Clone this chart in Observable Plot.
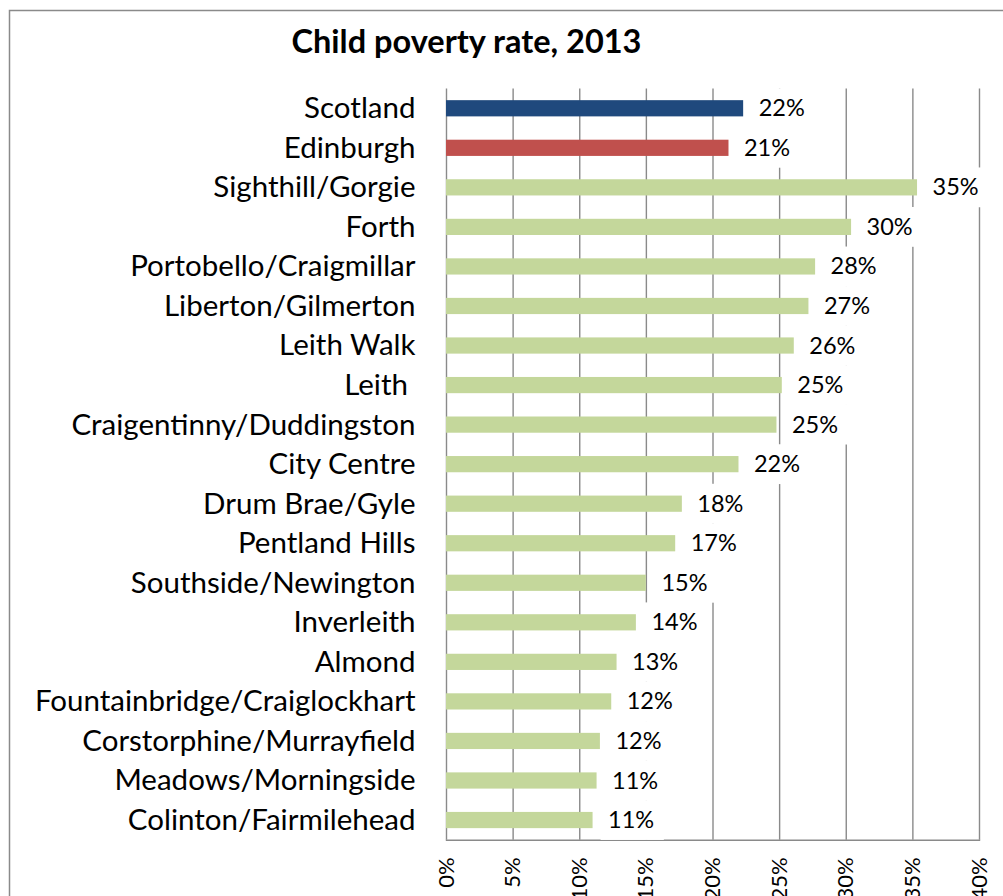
<!DOCTYPE html>
<html><head><meta charset="utf-8">
<script src="https://cdn.jsdelivr.net/npm/d3@7"></script>
<script src="https://cdn.jsdelivr.net/npm/@observablehq/plot@0.6"></script>
<style>html,body{margin:0;padding:0;overflow:hidden;background:#fff} svg{display:block}</style>
</head><body><div id="chart"></div>
<script>
const title = "Child poverty rate, 2013";
const areas = ["Scotland","Edinburgh","Sighthill/Gorgie","Forth","Portobello/Craigmillar","Liberton/Gilmerton","Leith Walk","Leith ","Craigentinny/Duddingston","City Centre","Drum Brae/Gyle","Pentland Hills","Southside/Newington","Inverleith","Almond","Fountainbridge/Craiglockhart","Corstorphine/Murrayfield","Meadows/Morningside","Colinton/Fairmilehead"];
const rates = [0.223,0.212,0.3535,0.304,0.277,0.272,0.261,0.252,0.248,0.2195,0.177,0.172,0.150,0.1425,0.128,0.124,0.1155,0.113,0.110];
const kinds = ["Scotland","Edinburgh","Ward","Ward","Ward","Ward","Ward","Ward","Ward","Ward","Ward","Ward","Ward","Ward","Ward","Ward","Ward","Ward","Ward"];
const kindNames = ["Scotland","Edinburgh","Ward"];
const kindColors = ["#1F497D","#C0504D","#C4D79B"];
const xTicks = [0,0.05,0.10,0.15,0.20,0.25,0.30,0.35,0.40];

const data = areas.map((a,i)=>({area:a, rate:rates[i], kind:kinds[i]}));
const grid = "#8a8a8a";

const chart = Plot.plot({
  width: 1003,
  height: 896,
  marginLeft: 446,
  marginRight: 24,
  marginTop: 88.5,
  marginBottom: 56.2,
  style: {fontFamily: "Lato, 'Open Sans', sans-serif", color: "#000", background: "#fff"},
  x: {domain: [0, 0.4]},
  y: {domain: areas, paddingInner: 0.59, paddingOuter: 0.295, round: false},
  color: {domain: kindNames, range: kindColors},
  marks: [
    Plot.ruleX(xTicks, {stroke: grid, strokeWidth: 1.4}),
    Plot.frame({anchor: "bottom", stroke: grid, strokeWidth: 1.4}),
    Plot.barX(data, {x1: d => d.rate + 0.006, x2: d => d.rate + 0.0535, y: "area", fill: "#fff", insetTop: -11.8, insetBottom: -11.8}),
    Plot.barX(data, {x: "rate", y: "area", fill: "kind"}),
    Plot.text(data, {x: "rate", y: "area", text: d => d3.format(".0%")(d.rate), dx: 15, textAnchor: "start", fontSize: 23.5, fill: "#000"}),
    Plot.axisY({tickSize: 0, tickPadding: 31, fontSize: 29.5, label: null}),
    Plot.axisX({ticks: xTicks, tickFormat: ".0%", tickRotate: -90, tickSize: 0, tickPadding: 17, fontSize: 22, label: null}),
    Plot.text([title], {frameAnchor: "top", dx: -246.5, dy: -59, fontSize: 32.5, fontWeight: "bold", fill: "#000"})
  ]
});
d3.select(chart).insert("rect", ":first-child")
  .attr("x", 9.5).attr("y", 10.5).attr("width", 1020).attr("height", 1000)
  .attr("fill", "none").attr("stroke", grid).attr("stroke-width", 1.5);
document.getElementById("chart").appendChild(chart);
</script>
</body></html>
